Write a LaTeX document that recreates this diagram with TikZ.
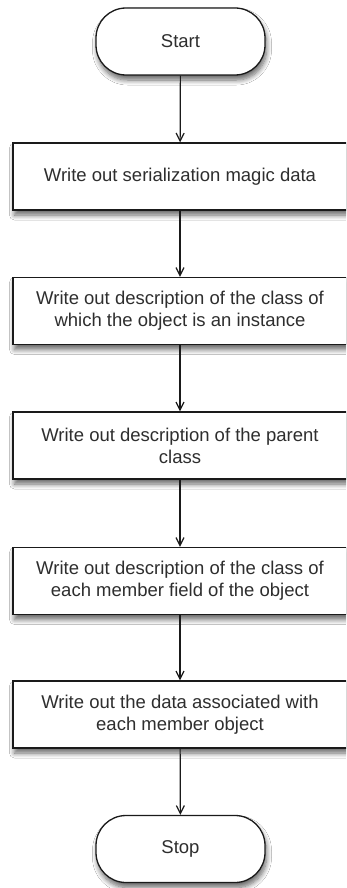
\documentclass[tikz,border=0pt]{standalone}
\usepackage{fontspec}
\setmainfont{Liberation Sans}
\usetikzlibrary{arrows.meta,shadows.blur}
\definecolor{inkline}{HTML}{1A1A1A}
\definecolor{inktext}{HTML}{2E2E2E}
\tikzset{
  flowbase/.style={draw=inkline, line width=1.3pt, fill=white,
    blur shadow={shadow xshift=1.5pt, shadow yshift=-5pt, shadow blur steps=8,
      shadow blur radius=5pt, shadow opacity=60},
    text=inktext, align=center,
    font=\fontsize{18.5}{22}\selectfont, inner sep=0pt},
  terminal/.style={flowbase, minimum width=169pt, minimum height=67pt,
    rounded corners=30pt},
  process/.style={flowbase, minimum width=334pt, minimum height=67pt},
  flow/.style={draw=inkline, line width=1.2pt,
    -{Straight Barb[length=8pt, width=8pt, line width=1.2pt]}},
}
\begin{document}
\begin{tikzpicture}[x=1pt, y=-1pt]
  \clip (0,0) rectangle (346,888);
  \fill[white] (0,0) rectangle (346,888);

  \node[terminal] (start) at (180.5,41.5) {Start};
  \node[process] (magic) at (180,176.5) {Write out serialization magic data};
  \node[process] (cls) at (180,311) {Write out description of the class of\\which the object is an instance};
  \node[process] (parent) at (180,445.5) {Write out description of the parent\\class};
  \node[process] (fields) at (180,581) {Write out description of the class of\\each member field of the object};
  \node[process] (data) at (180,714.5) {Write out the data associated with\\each member object};
  \node[terminal] (stop) at (180.5,849) {Stop};

  \draw[flow] (start) -- (magic);
  \draw[flow] (magic) -- (cls);
  \draw[flow] (cls) -- (parent);
  \draw[flow] (parent) -- (fields);
  \draw[flow] (fields) -- (data);
  \draw[flow] (data) -- (stop);
\end{tikzpicture}
\end{document}
